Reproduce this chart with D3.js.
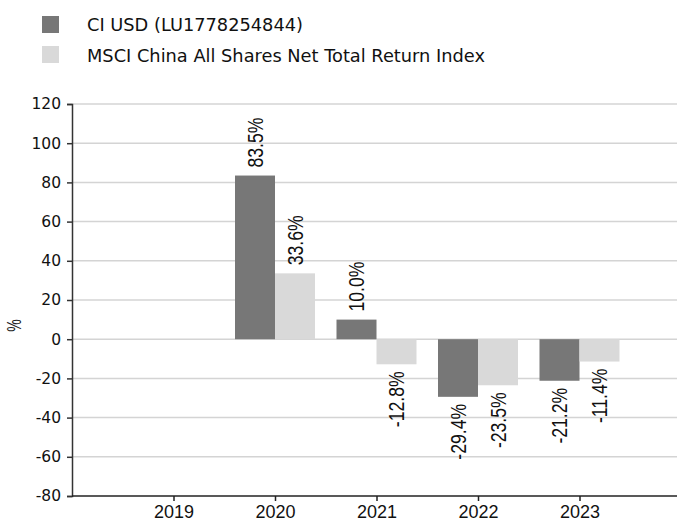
<!DOCTYPE html>
<html>
<head>
<meta charset="utf-8">
<script src="https://cdnjs.cloudflare.com/ajax/libs/d3/7.8.5/d3.min.js"></script>
<style>
  body { margin: 0; background: #fff; }
  svg { display: block; }
</style>
</head>
<body>
<svg id="chart" width="677" height="520"></svg>
<script>
// chart data
var years = ["2019", "2020", "2021", "2022", "2023"];
var seriesNames = ["CI USD (LU1778254844)", "MSCI China All Shares Net Total Return Index"];
var fundValues = [null, 83.5, 10.0, -29.4, -21.2];
var indexValues = [null, 33.6, -12.8, -23.5, -11.4];
var yTicks = [-80, -60, -40, -20, 0, 20, 40, 60, 80, 100, 120];

var colors = ["#777777", "#d9d9d9"];

var svg = d3.select("#chart");

var plotLeft = 72, plotRight = 677, plotTop = 104, plotBottom = 496;

var x = d3.scalePoint()
  .domain(years)
  .range([plotLeft, 681])
  .padding(1);

var y = d3.scaleLinear()
  .domain([-80, 120])
  .range([plotBottom, plotTop]);

var barW = 40;

// gridlines
svg.append("g")
  .selectAll("line")
  .data(yTicks.filter(d => d !== -80))
  .enter().append("line")
  .attr("x1", plotLeft)
  .attr("x2", plotRight)
  .attr("y1", d => y(d))
  .attr("y2", d => y(d))
  .attr("stroke", "#d4d4d4")
  .attr("stroke-width", 1.5);

// bars
var series = [fundValues, indexValues];
series.forEach(function (vals, si) {
  var data = years.map((yr, i) => ({ year: yr, value: vals[i] })).filter(d => d.value !== null);
  svg.append("g")
    .selectAll("rect")
    .data(data)
    .enter().append("rect")
    .attr("x", d => x(d.year) - barW + si * barW)
    .attr("y", d => y(Math.max(0, d.value)))
    .attr("width", barW)
    .attr("height", d => Math.abs(y(d.value) - y(0)))
    .attr("fill", colors[si]);

  // value labels, rotated
  svg.append("g")
    .selectAll("text")
    .data(data)
    .enter().append("text")
    .attr("transform", function (d) {
      var cx = x(d.year) - barW / 2 + si * barW;
      var cy = d.value >= 0 ? y(d.value) - 8 : y(d.value) + 7;
      return "translate(" + cx + "," + cy + ") rotate(-90) scale(0.82,1)";
    })
    .attr("text-anchor", d => d.value >= 0 ? "start" : "end")
    .attr("dy", "0.36em")
    .attr("font-family", "'Liberation Sans', Arial, sans-serif")
    .attr("font-size", 21.5)
    .attr("fill", "#111")
    .text(d => d.value.toFixed(1) + "%");
});

// y axis
var yAxis = svg.append("g")
  .attr("transform", "translate(" + plotLeft + ",0)")
  .call(d3.axisLeft(y).tickValues(yTicks).tickSize(5).tickPadding(6).tickFormat(d => String(d)));
yAxis.select(".domain").attr("stroke", "#333").attr("stroke-width", 1.5);
yAxis.selectAll(".tick line").attr("stroke", "#333").attr("stroke-width", 1.5);
yAxis.selectAll("text")
  .attr("font-family", "'DejaVu Sans', sans-serif")
  .attr("font-size", 15.5)
  .attr("fill", "#111");

// x axis
var xAxis = svg.append("g")
  .attr("transform", "translate(0," + plotBottom + ")")
  .call(d3.axisBottom(x).tickSize(5).tickPadding(4));
xAxis.select(".domain").attr("d", "M" + plotLeft + ",0H" + plotRight).attr("stroke", "#222").attr("stroke-width", 1.5);
xAxis.selectAll(".tick line").attr("stroke", "#222").attr("stroke-width", 1.5);
xAxis.selectAll("text")
  .attr("font-family", "'Liberation Sans', Arial, sans-serif")
  .attr("font-size", 18)
  .attr("fill", "#111");

// y axis title
svg.append("text")
  .attr("transform", "translate(14,325.5) rotate(-90) scale(0.7,1)")
  .attr("text-anchor", "middle")
  .attr("dy", "0.36em")
  .attr("font-family", "'Liberation Sans', Arial, sans-serif")
  .attr("font-size", 20)
  .attr("fill", "#222")
  .text("%");

// legend
var legend = svg.append("g");
seriesNames.forEach(function (name, i) {
  legend.append("rect")
    .attr("x", 42)
    .attr("y", 16 + i * 30)
    .attr("width", 17)
    .attr("height", 17)
    .attr("fill", colors[i]);
  legend.append("text")
    .attr("x", 87)
    .attr("y", 31 + i * 31)
    .attr("font-family", "'DejaVu Sans', sans-serif")
    .attr("font-size", 17.8)
    .attr("fill", "#111")
    .text(name);
});
</script>
</body>
</html>
